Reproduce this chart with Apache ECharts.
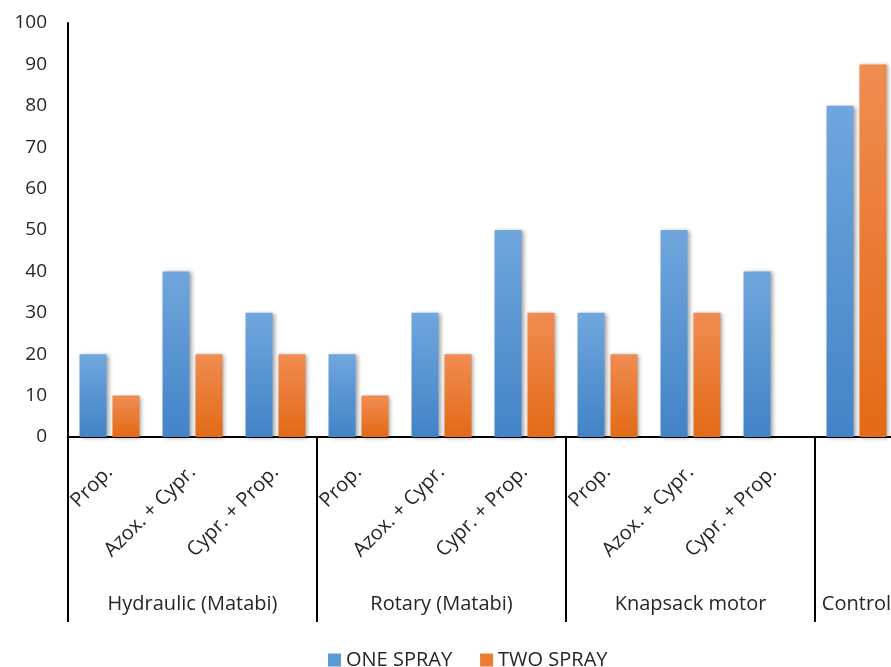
<!DOCTYPE html>
<html>
<head>
<meta charset="utf-8">
<script src="https://cdn.jsdelivr.net/npm/echarts@6/dist/echarts.min.js"></script>
<style>
  html, body { margin: 0; padding: 0; background: #fff; overflow: hidden; }
  #chart { width: 898px; height: 667px; }
</style>
</head>
<body>
<div id="chart"></div>
<script>
// Treatments (inner axis) and their application method groups (outer axis)
const treatments = ['Prop.', 'Azox. + Cypr.', 'Cypr. + Prop.',
                    'Prop.', 'Azox. + Cypr.', 'Cypr. + Prop.',
                    'Prop.', 'Azox. + Cypr.', 'Cypr. + Prop.',
                    ''];
const groupLabels = ['', 'Hydraulic (Matabi)', '', '', 'Rotary (Matabi)', '', '', 'Knapsack motor', '', 'Control'];
const groupStarts = [0, 3, 6, 9];

const oneSpray = [20, 40, 30, 20, 30, 50, 30, 50, 40, 80];
const twoSpray = [10, 20, 20, 10, 20, 30, 20, 30, 0, 90];

const yTicks = { min: 0, max: 100, interval: 10 };

const FONT = 'Open Sans';
const TEXT = '#262626';

function grad(top, bottom) {
  return new echarts.graphic.LinearGradient(0, 0, 0, 1, [
    { offset: 0, color: top }, { offset: 1, color: bottom }
  ]);
}

const barShadow = {
  shadowColor: 'rgba(0,0,0,0.35)',
  shadowBlur: 4,
  shadowOffsetX: 2,
  shadowOffsetY: 1
};

const chart = echarts.init(document.getElementById('chart'));
chart.setOption({
  animation: false,
  textStyle: { fontFamily: FONT, color: TEXT },
  grid: { left: 68, right: 0, top: 23, bottom: 230, containLabel: false },
  legend: {
    top: 645,
    left: 323,
    itemWidth: 13,
    itemHeight: 13,
    itemGap: 28,
    icon: 'rect',
    textStyle: { fontFamily: FONT, fontSize: 20, color: TEXT },
    data: [
      { name: 'ONE SPRAY', itemStyle: { color: '#5B9BD5' } },
      { name: 'TWO SPRAY', itemStyle: { color: '#ED7D31' } }
    ]
  },
  xAxis: [
    {
      type: 'category',
      data: treatments,
      position: 'bottom',
      axisLine: { show: true, lineStyle: { color: '#000', width: 2 } },
      axisTick: { show: false },
      axisLabel: {
        interval: 0,
        rotate: 45,
        margin: 32,
        fontFamily: FONT,
        fontSize: 20,
        color: TEXT
      }
    },
    {
      type: 'category',
      data: groupLabels,
      position: 'bottom',
      axisLine: { show: false },
      axisTick: {
        show: true,
        alignWithLabel: false,
        length: 185,
        interval: function (i) { return groupStarts.indexOf(i) !== -1; },
        lineStyle: { color: '#000', width: 2 }
      },
      axisLabel: {
        interval: 0,
        margin: 157,
        fontFamily: FONT,
        fontSize: 20,
        color: TEXT
      }
    }
  ],
  yAxis: {
    type: 'value',
    min: yTicks.min,
    max: yTicks.max,
    interval: yTicks.interval,
    axisLine: { show: true, lineStyle: { color: '#000', width: 2 } },
    axisTick: { show: false },
    splitLine: { show: false },
    axisLabel: { margin: 21, fontFamily: FONT, fontSize: 19, color: TEXT }
  },
  series: [
    {
      name: 'ONE SPRAY',
      type: 'bar',
      data: oneSpray,
      barWidth: 27,
      barGap: '22%',
      itemStyle: Object.assign({ color: grad('#70A6DD', '#4283C7') }, barShadow)
    },
    {
      name: 'TWO SPRAY',
      type: 'bar',
      data: twoSpray,
      barWidth: 27,
      barGap: '22%',
      itemStyle: Object.assign({ color: grad('#F08C52', '#E36A16') }, barShadow)
    }
  ]
});
</script>
</body>
</html>
